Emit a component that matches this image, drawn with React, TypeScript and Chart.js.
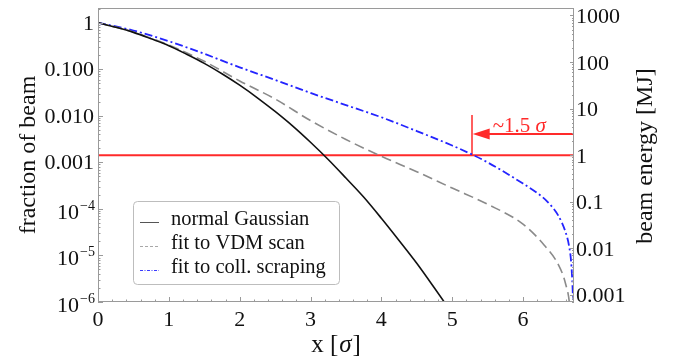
import React, { useEffect, useRef } from 'react';
import { Chart, registerables } from 'chart.js';

Chart.register(...registerables);

// ---------- data ----------
const xGaussian = [0, 0.25, 0.5, 0.75, 1, 1.25, 1.5, 1.75, 2, 2.25, 2.5, 2.75, 3, 3.25, 3.5, 3.75, 4, 4.25, 4.5, 4.75, 5];
const gaussian = [1, 0.80, 0.62, 0.45, 0.32, 0.21, 0.134, 0.080, 0.0455, 0.0244, 0.0124, 0.0060, 0.0027, 0.00115, 4.6e-4, 1.8e-4, 6.3e-5, 2.1e-5, 6.8e-6, 2.0e-6, 5.7e-7];

const xVdm = [0, 0.5, 1, 1.5, 2, 2.5, 3, 3.5, 4, 4.5, 5, 5.5, 6, 6.3, 6.5, 6.6, 6.66, 6.68];
const vdm = [1, 0.63, 0.33, 0.148, 0.056, 0.023, 0.0079, 0.0031, 0.00135, 6.3e-4, 2.8e-4, 1.26e-4, 4.7e-5, 1.66e-5, 6.3e-6, 2.5e-6, 8e-7, 2.5e-7];

const xScraping = [0, 0.5, 1, 1.5, 2, 2.5, 3, 3.5, 4, 4.5, 5, 5.27, 5.5, 6, 6.2, 6.35, 6.5, 6.6, 6.65, 6.68, 6.7, 6.71, 6.72];
const scraping = [1, 0.68, 0.40, 0.215, 0.11, 0.059, 0.031, 0.017, 0.0093, 0.0047, 0.0023, 0.0015, 0.001, 3.5e-4, 2.2e-4, 1.4e-4, 7.1e-5, 3.2e-5, 1.6e-5, 7.1e-6, 2.0e-6, 6.3e-7, 1e-7];

const seriesLabels = ['normal Gaussian', 'fit to VDM scan', 'fit to coll. scraping'];

const xTicks = [0, 1, 2, 3, 4, 5, 6];
const xTickLabels = ['0', '1', '2', '3', '4', '5', '6'];
const leftTicks = [1, 0.1, 0.01, 0.001, 1e-4, 1e-5, 1e-6];
const leftTickLabels = ['1', '0.100', '0.010', '0.001', '10', '10', '10'];
const leftTickExponents = ['', '', '', '', '\u22124', '\u22125', '\u22126'];
const rightTicks = [1000, 100, 10, 1, 0.1, 0.01, 0.001];
const rightTickLabels = ['1000', '100', '10', '1', '0.1', '0.01', '0.001'];

const xMin = 0;
const xMax = 6.72;
const yMin = 1e-6;
const yMax = 2.07;
const beamEnergyMJ = 700;

const thresholdMJ = 1;
const markerX = 5.28;
const markerTopMJ = 7.3;
const arrowMJ = 2.86;
const arrowTipX = 5.29;
const annotationText = '~1.5 ';
const annotationSymbol = '\u03c3';

const FONT = '"Liberation Serif", "Times New Roman", serif';

// ---------- layout ----------
const W = 685;
const H = 360;
const PLOT_LEFT = 98;
const PLOT_RIGHT = 574;
const PLOT_TOP = 8;
const PLOT_BOTTOM = 302;

const pts = (xs: number[], ys: number[]) => xs.map((x, i) => ({ x, y: ys[i] }));

function roundRect(ctx: CanvasRenderingContext2D, x: number, y: number, w: number, h: number, r: number) {
  ctx.beginPath();
  ctx.moveTo(x + r, y);
  ctx.lineTo(x + w - r, y);
  ctx.arcTo(x + w, y, x + w, y + r, r);
  ctx.lineTo(x + w, y + h - r);
  ctx.arcTo(x + w, y + h, x + w - r, y + h, r);
  ctx.lineTo(x + r, y + h);
  ctx.arcTo(x, y + h, x, y + h - r, r);
  ctx.lineTo(x, y + r);
  ctx.arcTo(x, y, x + r, y, r);
  ctx.closePath();
}

const decorPlugin = {
  id: 'decor',
  afterDraw(chart: any) {
    const ctx: CanvasRenderingContext2D = chart.ctx;
    const { left, right, top, bottom } = chart.chartArea;
    const sx = chart.scales.x;
    const sy = chart.scales.y;
    const sy2 = chart.scales.y2;
    ctx.save();

    // frame
    ctx.strokeStyle = '#9a9a9a';
    ctx.lineWidth = 1;
    ctx.setLineDash([]);
    ctx.strokeRect(Math.round(left) + 0.5, Math.round(top) + 0.5, Math.round(right - left) - 1, Math.round(bottom - top) - 1);

    // ticks
    ctx.beginPath();
    for (let k = 0; k <= Math.floor(xMax * 5 + 1e-6); k++) {
      const v = k / 5;
      const px = Math.round(sx.getPixelForValue(v)) + 0.5;
      const major = k % 5 === 0;
      ctx.moveTo(px, bottom);
      ctx.lineTo(px, bottom - (major ? 5 : 2.5));
    }
    for (let e = -6; e <= 0; e++) {
      for (let m = 1; m <= 9; m++) {
        const v = m * Math.pow(10, e);
        if (v < yMin || v > yMax) continue;
        const py = Math.round(sy.getPixelForValue(v)) + 0.5;
        ctx.moveTo(left, py);
        ctx.lineTo(left + (m === 1 ? 5 : 2.5), py);
      }
    }
    for (let e = -4; e <= 3; e++) {
      for (let m = 1; m <= 9; m++) {
        const v = m * Math.pow(10, e);
        if (v < sy2.min || v > sy2.max) continue;
        const py = Math.round(sy2.getPixelForValue(v)) + 0.5;
        ctx.moveTo(right, py);
        ctx.lineTo(right - (m === 1 ? 4 : 2), py);
      }
    }
    ctx.stroke();

    // tick labels
    const TF = 22;
    ctx.fillStyle = '#111';
    ctx.font = `${TF}px ${FONT}`;
    ctx.textAlign = 'center';
    ctx.textBaseline = 'alphabetic';
    xTicks.forEach((v, i) => {
      ctx.fillText(xTickLabels[i], sx.getPixelForValue(v), bottom + 24);
    });
    leftTicks.forEach((v, i) => {
      const py = sy.getPixelForValue(v);
      const exp = leftTickExponents[i];
      if (!exp) {
        ctx.font = `${TF}px ${FONT}`;
        ctx.textAlign = 'right';
        ctx.fillText(leftTickLabels[i], left - 4, py + 7);
      } else {
        ctx.font = `14px ${FONT}`;
        ctx.textAlign = 'right';
        const ew = ctx.measureText(exp).width;
        ctx.fillText(exp, left - 3, py + 1);
        ctx.font = `${TF}px ${FONT}`;
        ctx.fillText(leftTickLabels[i], left - 4 - ew, py + 10);
      }
    });
    ctx.font = `${TF}px ${FONT}`;
    ctx.textAlign = 'left';
    rightTicks.forEach((v, i) => {
      ctx.fillText(rightTickLabels[i], right + 2, sy2.getPixelForValue(v) + 7.5);
    });

    // axis titles
    ctx.font = `24px ${FONT}`;
    ctx.textAlign = 'center';
    ctx.save();
    ctx.translate(35, (top + bottom) / 2);
    ctx.rotate(-Math.PI / 2);
    ctx.fillText('fraction of beam', 0, 0);
    ctx.restore();
    ctx.save();
    ctx.translate(652, (top + bottom) / 2 + 1);
    ctx.rotate(-Math.PI / 2);
    ctx.fillText('beam energy [MJ]', 0, 0);
    ctx.restore();
    {
      const a = 'x [';
      const b = '\u03c3';
      const c = ']';
      const XF = 25;
      ctx.font = `${XF}px ${FONT}`;
      const wa = ctx.measureText(a).width;
      const wc = ctx.measureText(c).width;
      ctx.font = `italic ${XF}px ${FONT}`;
      const wb = ctx.measureText(b).width;
      const total = wa + wb + wc + 2;
      const x0 = (left + right) / 2 - total / 2;
      const base = 352;
      ctx.textAlign = 'left';
      ctx.font = `${XF}px ${FONT}`;
      ctx.fillText(a, x0, base);
      ctx.font = `italic ${XF}px ${FONT}`;
      ctx.fillText(b, x0 + wa + 1, base);
      ctx.font = `${XF}px ${FONT}`;
      ctx.fillText(c, x0 + wa + wb + 2, base);
    }

    // annotation arrow head + text
    const tipX = sx.getPixelForValue(arrowTipX);
    const ay = sy2.getPixelForValue(arrowMJ);
    ctx.fillStyle = '#ff2a2a';
    ctx.beginPath();
    ctx.moveTo(tipX, ay);
    ctx.lineTo(tipX + 17, ay - 5.5);
    ctx.lineTo(tipX + 17, ay + 5.5);
    ctx.closePath();
    ctx.fill();
    ctx.font = `21px ${FONT}`;
    ctx.textAlign = 'left';
    const tw = ctx.measureText(annotationText).width;
    ctx.fillText(annotationText, tipX + 20, ay - 2);
    ctx.font = `italic 21px ${FONT}`;
    ctx.fillText(annotationSymbol, tipX + 20 + tw, ay - 2);

    // legend
    const lx = 133.5, ly = 201.5, lw = 206, lh = 83;
    roundRect(ctx, lx, ly, lw, lh, 4);
    ctx.fillStyle = '#ffffff';
    ctx.fill();
    ctx.strokeStyle = '#bdbdbd';
    ctx.lineWidth = 1;
    ctx.stroke();
    const legendStyles = [
      { color: '#555555', dash: [] as number[] },
      { color: '#a8a8a8', dash: [3, 2] },
      { color: '#3b3bff', dash: [3, 1.5, 1, 1.5] },
    ];
    ctx.font = `20.5px ${FONT}`;
    ctx.textAlign = 'left';
    legendStyles.forEach((st, i) => {
      const baseY = 225 + i * 24;
      ctx.strokeStyle = st.color;
      ctx.setLineDash(st.dash);
      ctx.lineWidth = 1;
      ctx.beginPath();
      ctx.moveTo(140, baseY - 2.5);
      ctx.lineTo(159, baseY - 2.5);
      ctx.stroke();
      ctx.setLineDash([]);
      ctx.fillStyle = '#111';
      ctx.fillText(chart.data.datasets[i].label, 171, baseY);
    });

    ctx.restore();
  },
};

export default function App() {
  const ref = useRef<HTMLCanvasElement>(null);
  useEffect(() => {
    if (!ref.current) return;
    const chart = new Chart(ref.current, {
      type: 'line',
      data: {
        datasets: [
          {
            label: seriesLabels[0],
            data: pts(xGaussian, gaussian),
            borderColor: '#111111',
            borderWidth: 1.6,
            pointRadius: 0,
            cubicInterpolationMode: 'monotone',
            yAxisID: 'y',
          },
          {
            label: seriesLabels[1],
            data: pts(xVdm, vdm),
            borderColor: '#8a8a8a',
            borderWidth: 1.6,
            borderDash: [10, 5],
            pointRadius: 0,
            cubicInterpolationMode: 'monotone',
            yAxisID: 'y',
          },
          {
            label: seriesLabels[2],
            data: pts(xScraping, scraping),
            borderColor: '#2424ff',
            borderWidth: 1.8,
            borderDash: [8, 3, 2, 3],
            pointRadius: 0,
            cubicInterpolationMode: 'monotone',
            yAxisID: 'y',
          },
          {
            label: 'threshold',
            data: [{ x: xMin, y: thresholdMJ }, { x: xMax, y: thresholdMJ }],
            borderColor: '#ff2a2a',
            borderWidth: 2,
            pointRadius: 0,
            yAxisID: 'y2',
          },
          {
            label: 'marker',
            data: [{ x: markerX, y: thresholdMJ }, { x: markerX, y: markerTopMJ }],
            borderColor: '#ff2a2a',
            borderWidth: 1.5,
            pointRadius: 0,
            yAxisID: 'y2',
          },
          {
            label: 'arrow',
            data: [{ x: arrowTipX + 0.2, y: arrowMJ }, { x: xMax, y: arrowMJ }],
            borderColor: '#ff2a2a',
            borderWidth: 2,
            pointRadius: 0,
            yAxisID: 'y2',
          },
        ],
      },
      options: {
        animation: false,
        responsive: false,
        devicePixelRatio: 1,
        layout: { padding: { top: PLOT_TOP, left: 0, right: 0, bottom: 0 } },
        plugins: { legend: { display: false }, tooltip: { enabled: false } },
        scales: {
          x: {
            type: 'linear',
            min: xMin,
            max: xMax,
            grid: { display: false },
            border: { display: false },
            ticks: { display: false },
            afterFit: (s: any) => { s.height = H - PLOT_BOTTOM; },
          },
          y: {
            type: 'logarithmic',
            position: 'left',
            min: yMin,
            max: yMax,
            grid: { display: false },
            border: { display: false },
            ticks: { display: false },
            afterFit: (s: any) => { s.width = PLOT_LEFT; },
          },
          y2: {
            type: 'logarithmic',
            position: 'right',
            min: yMin * beamEnergyMJ,
            max: yMax * beamEnergyMJ,
            grid: { display: false },
            border: { display: false },
            ticks: { display: false },
            afterFit: (s: any) => { s.width = W - PLOT_RIGHT; },
          },
        },
      } as any,
      plugins: [decorPlugin],
    });
    return () => chart.destroy();
  }, []);
  return (
    <div style={{ position: 'fixed', left: 0, top: 0, width: W, height: H, background: '#fff' }}>
      <canvas ref={ref} width={W} height={H} style={{ width: W, height: H, display: 'block' }} />
    </div>
  );
}
